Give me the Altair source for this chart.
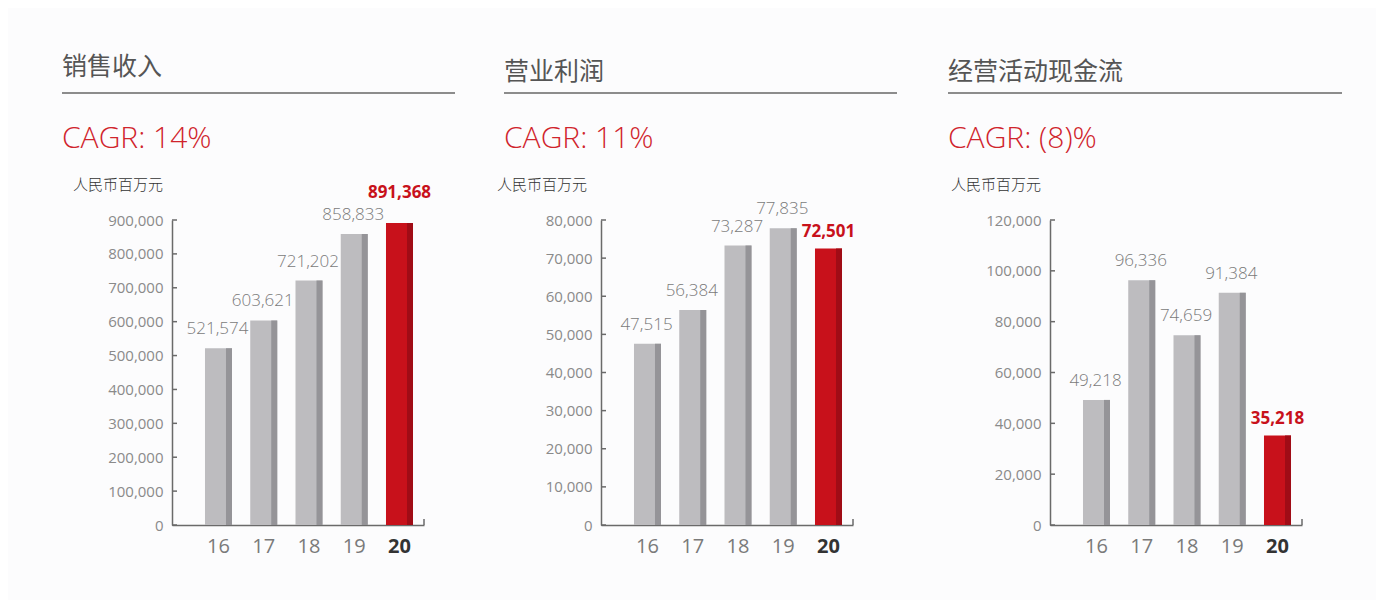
import altair as alt
import pandas as pd

years = ["16", "17", "18", "19", "20"]
revenue = [521574, 603621, 721202, 858833, 891368]
profit = [47515, 56384, 73287, 77835, 72501]
cashflow = [49218, 96336, 74659, 91384, 35218]

titles = ["销售收入", "营业利润", "经营活动现金流"]
cagr_texts = ["CAGR: 14%", "CAGR: 11%", "CAGR: (8)%"]
unit_text = "人民币百万元"
y_max = [900000, 80000, 120000]
y_ticks = [
    [0, 100000, 200000, 300000, 400000, 500000, 600000, 700000, 800000, 900000],
    [0, 10000, 20000, 30000, 40000, 50000, 60000, 70000, 80000],
    [0, 20000, 40000, 60000, 80000, 100000, 120000],
]
series = [revenue, profit, cashflow]

GRAY = "#bdbcbf"
GRAY_D = "#959498"
RED = "#c8111b"
RED_D = "#a00c16"
AXIS_C = "#6a6a6a"
LBL_C = "#8a8a8a"
NUM_FONT = "Open Sans"
CJK_FONT = "Noto Sans CJK SC"
PLOT_H = 305
AXIS_W = 252

# per-panel layout (pixels relative to each plot origin)
cell_w = [429, 449, 300]
title_dx = [-110, -97, -102]
title_dy = [-153, -148, -148]
line_end = [283, 296, 292]
unit_dx = [-99, -104, -99]
red_dy = [-30, -17, -16]


def panel(i):
    df = pd.DataFrame({"year": years, "value": series[i]})
    df["hl"] = df["year"] == years[-1]
    xs = alt.Scale(domain=years, range=[0, AXIS_W], paddingInner=0.403,
                   paddingOuter=0.486, align=0.75)
    ys = alt.Scale(domain=[0, y_max[i]], nice=False, zero=True)
    X = alt.X("year:N", scale=xs, sort=years,
              axis=alt.Axis(title=None, labelAngle=0, ticks=False, tickSize=0,
                            labelPadding=11, labelFontSize=20, labelFont=NUM_FONT,
                            domainColor=AXIS_C, domainWidth=1.5,
                            labelColor=alt.condition("datum.value == '20'", alt.value("#333333"), alt.value("#7a7a7a")),
                            labelFontWeight=alt.condition("datum.value == '20'", alt.value("bold"), alt.value("normal"))))
    Y = alt.Y("value:Q", scale=ys,
              axis=alt.Axis(title=None, values=y_ticks[i], format=",d", ticks=False, tickSize=0,
                            labelPadding=9, labelFontSize=15, labelFont=NUM_FONT,
                            labelColor=LBL_C, domainColor=AXIS_C, domainWidth=1.5, grid=False))
    bars = alt.Chart(df).mark_bar().encode(
        x=X, y=Y,
        color=alt.condition("datum.hl", alt.value(RED), alt.value(GRAY)))
    strip = alt.Chart(df).mark_bar(width=6, xOffset=10.5).encode(
        x=X, y=Y,
        color=alt.condition("datum.hl", alt.value(RED_D), alt.value(GRAY_D)))
    tdf = pd.DataFrame({"value": y_ticks[i]})
    ticks = alt.Chart(tdf).mark_rule(color=AXIS_C, strokeWidth=1.5).encode(
        y=Y, x=alt.value(0), x2=alt.value(5))
    one = pd.DataFrame({"t": [titles[i]]})
    endtick = alt.Chart(one).mark_rule(color=AXIS_C, strokeWidth=1.5).encode(
        x=alt.value(AXIS_W), y=alt.value(PLOT_H), y2=alt.value(PLOT_H - 6))
    lbl = alt.Chart(df).transform_filter("!datum.hl").mark_text(
        dy=-19, dx=-1, fontSize=17, font=NUM_FONT, fontWeight=300, color="#7a7a7a", baseline="middle").encode(
        x=X, y=Y, text=alt.Text("value:Q", format=",d"))
    lbl_hl = alt.Chart(df).transform_filter("datum.hl").mark_text(
        dy=red_dy[i], fontSize=17, font=NUM_FONT, fontWeight="bold", color=RED, baseline="middle").encode(
        x=X, y=Y, text=alt.Text("value:Q", format=",d"))
    title = alt.Chart(one).mark_text(align="left", baseline="middle", fontSize=25, font=CJK_FONT,
                                     color="#555555").encode(
        text="t:N", x=alt.value(title_dx[i]), y=alt.value(title_dy[i]))
    uline = alt.Chart(one).mark_rule(color="#8c8c8c", strokeWidth=2).encode(
        x=alt.value(title_dx[i]), x2=alt.value(line_end[i]), y=alt.value(-127))
    cagr = alt.Chart(pd.DataFrame({"t": [cagr_texts[i]]})).mark_text(
        align="left", baseline="middle", fontSize=30, font=NUM_FONT, fontWeight=300,
        color="#d0242c").encode(
        text="t:N", x=alt.value(title_dx[i]), y=alt.value(-81))
    unit = alt.Chart(pd.DataFrame({"t": [unit_text]})).mark_text(
        align="left", baseline="middle", fontSize=15, font=CJK_FONT, fontWeight=300,
        color="#333333").encode(
        text="t:N", x=alt.value(unit_dx[i]), y=alt.value(-35))
    layers = [bars, strip, ticks, endtick, lbl, lbl_hl, title, uline, cagr, unit]
    if i == 0:
        anchor = alt.Chart(one).mark_rect(opacity=0).encode(
            x=alt.value(-164), x2=alt.value(-163), y=alt.value(-212), y2=alt.value(-211))
        layers.append(anchor)
    if i == 2:
        anchor_r = alt.Chart(one).mark_rect(opacity=0).encode(
            x=alt.value(325), x2=alt.value(326), y=alt.value(PLOT_H + 74), y2=alt.value(PLOT_H + 75))
        layers.append(anchor_r)
    return alt.layer(*layers).properties(width=cell_w[i], height=PLOT_H)


chart = alt.hconcat(panel(0), panel(1), panel(2), spacing=0, bounds="flush").properties(
    padding=0, background="#fcfcfd").configure_view(stroke=None)

chart.save("out.html", embed_options={"renderer": "svg", "actions": False})
